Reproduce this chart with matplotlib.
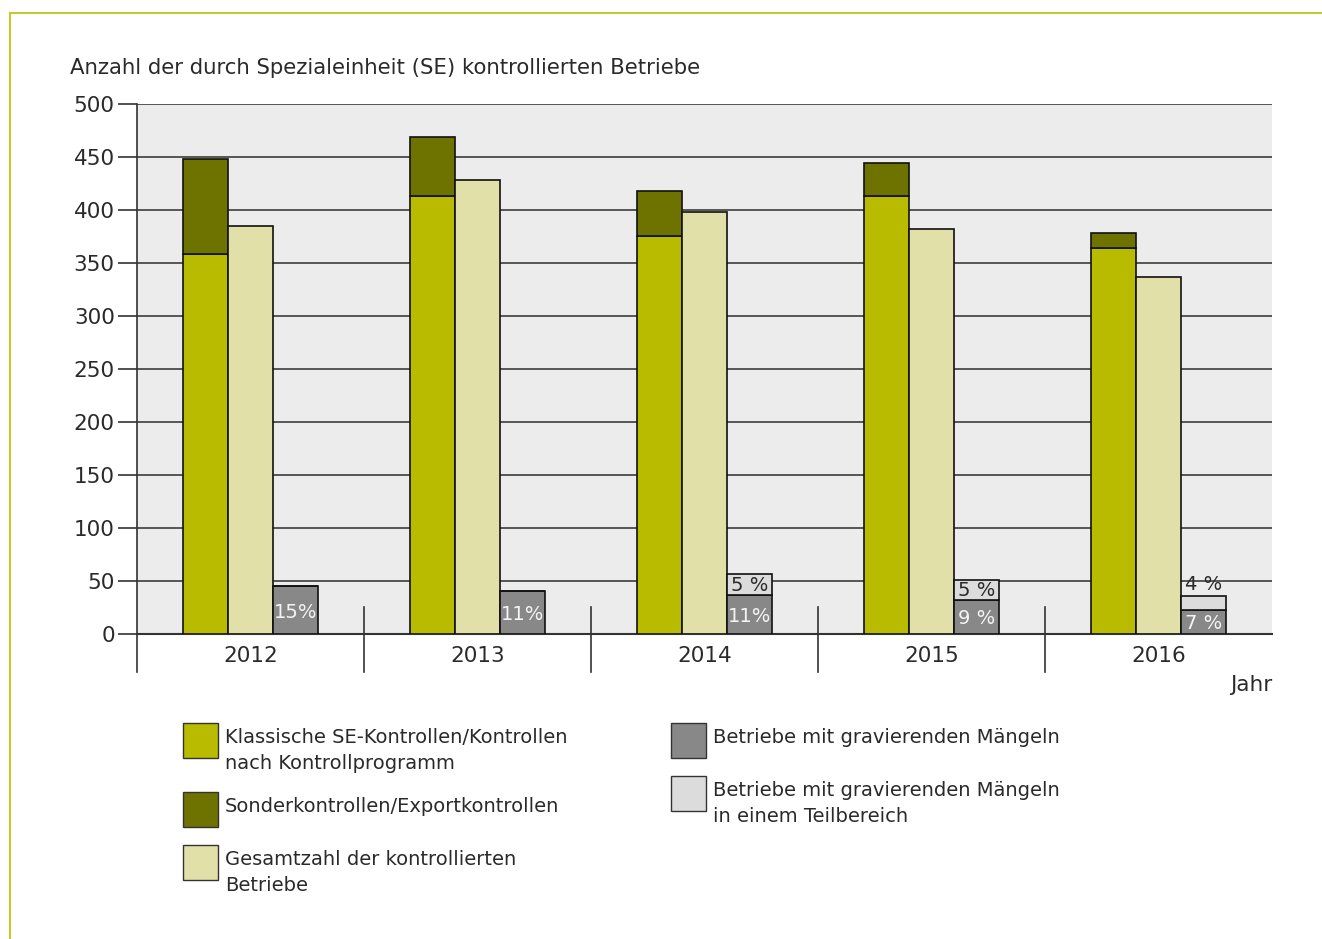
import matplotlib
matplotlib.use("Agg")
import matplotlib.pyplot as plt
from matplotlib.patches import Rectangle
from matplotlib.lines import Line2D
import numpy as np

plt.rcParams['font.family'] = ['DejaVu Sans']

years = ["2012", "2013", "2014", "2015", "2016"]
klassisch = [358, 413, 375, 413, 364]
sonder = [90, 56, 43, 31, 14]           # on top of klassisch
gesamt = [385, 428, 398, 382, 337]
gravierend = [45, 40, 37, 32, 22]
teilbereich = [0, 0, 19, 19, 14]        # on top of gravierend
pct_grav = ["15%", "11%", "11%", "9 %", "7 %"]
pct_teil = [None, None, "5 %", "5 %", "4 %"]

title = "Anzahl der durch Spezialeinheit (SE) kontrollierten Betriebe"
xlabel = "Jahr"
legend_labels = [
    "Klassische SE-Kontrollen/Kontrollen\nnach Kontrollprogramm",
    "Sonderkontrollen/Exportkontrollen",
    "Gesamtzahl der kontrollierten\nBetriebe",
    "Betriebe mit gravierenden Mängeln",
    "Betriebe mit gravierenden Mängeln\nin einem Teilbereich",
]

c_green = "#b8bb00"
c_olive = "#6e7300"
c_light = "#e1e0a8"
c_grey = "#888888"
c_lgrey = "#dcdcdc"
c_bg = "#ececec"
c_text = "#2a2a2a"

W, H = 1322, 939
fig = plt.figure(figsize=(W / 100, H / 100), dpi=100)
ax = fig.add_axes([137 / W, 1 - 633.7 / H, (1272 - 137) / W, (633.7 - 104) / H])
ax.set_facecolor(c_bg)

n = len(years)
x = np.arange(n)
bw = 0.198

ax.set_xlim(-0.5, n - 0.5)
ax.set_ylim(0, 500)
ax.set_yticks(np.arange(0, 501, 50))
ax.yaxis.grid(True, color="#555555", lw=1.4)
ax.set_axisbelow(True)
ax.tick_params(axis="y", length=14, width=1.2, color="#333333", labelsize=15.5, labelcolor=c_text, pad=2)
ax.tick_params(axis="x", length=0, labelsize=15.5, labelcolor=c_text, pad=9)
ax.set_xticks(x)
ax.set_xticklabels(years)
for s in ["top", "right"]:
    ax.spines[s].set_visible(False)
ax.spines["left"].set_color("#333333")
ax.spines["left"].set_linewidth(1.2)
ax.spines["bottom"].set_color("#333333")
ax.spines["bottom"].set_linewidth(1.5)

ec = "#111111"
lw = 1.2
ax.bar(x - bw, klassisch, bw, color=c_green, edgecolor=ec, lw=lw, zorder=3)
ax.bar(x - bw, sonder, bw, bottom=klassisch, color=c_olive, edgecolor=ec, lw=lw, zorder=3)
ax.bar(x, gesamt, bw, color=c_light, edgecolor=ec, lw=lw, zorder=3)
ax.bar(x + bw, gravierend, bw, color=c_grey, edgecolor=ec, lw=lw, zorder=3)
ax.bar(x + bw, teilbereich, bw, bottom=gravierend, color=c_lgrey, edgecolor=ec, lw=lw, zorder=3)

for i in range(n):
    ax.text(x[i] + bw, gravierend[i] * 0.45, pct_grav[i], ha="center", va="center",
            fontsize=14, color="#f4f4f4", zorder=5)
    if pct_teil[i]:
        top = gravierend[i] + teilbereich[i]
        if teilbereich[i] >= 16:
            ax.text(x[i] + bw, gravierend[i] + teilbereich[i] * 0.45, pct_teil[i], ha="center",
                    va="center", fontsize=14, color=c_text, zorder=5)
        else:
            ax.text(x[i] + bw, top + 1.5, pct_teil[i], ha="center", va="bottom",
                    fontsize=14, color=c_text, zorder=5)

# category separators and extended left axis
trans = ax.get_xaxis_transform()
for b in np.arange(0.5, n - 0.5, 1.0):
    ax.add_line(Line2D([b, b], [0.051, -0.072], transform=trans, color="#333333",
                       lw=1.2, clip_on=False, zorder=4))
ax.add_line(Line2D([-0.5, -0.5], [0, -0.072], transform=trans, color="#333333",
                   lw=1.2, clip_on=False, zorder=4))

# texts
fig.text(70 / W, 1 - 68 / H, title, ha="left", va="center", fontsize=15.3, color=c_text)
fig.text(1272 / W, 1 - 685 / H, xlabel, ha="right", va="center", fontsize=15.5, color=c_text)

# frame lines
fig.add_artist(Line2D([10 / W, 1], [1 - 13 / H, 1 - 13 / H], transform=fig.transFigure,
                      color="#c5c832", lw=1.5))
fig.add_artist(Line2D([10 / W, 10 / W], [0, 1 - 13 / H], transform=fig.transFigure,
                      color="#c5c832", lw=1.5))

# legend
leg_colors = [c_green, c_olive, c_light, c_grey, c_lgrey]
leg_pos = [(183, 723), (183, 792), (183, 845), (671, 723), (671, 776)]
for (px, py), col, lab in zip(leg_pos, leg_colors, legend_labels):
    fig.add_artist(Rectangle((px / W, 1 - (py + 35) / H), 35 / W, 35 / H, transform=fig.transFigure,
                             facecolor=col, edgecolor="#333333", lw=1.0))
    fig.text((px + 42) / W, 1 - (py + 5) / H, lab, ha="left", va="top", fontsize=14,
             color=c_text, linespacing=1.45)

fig.savefig("out.png", dpi=100, facecolor="white")
